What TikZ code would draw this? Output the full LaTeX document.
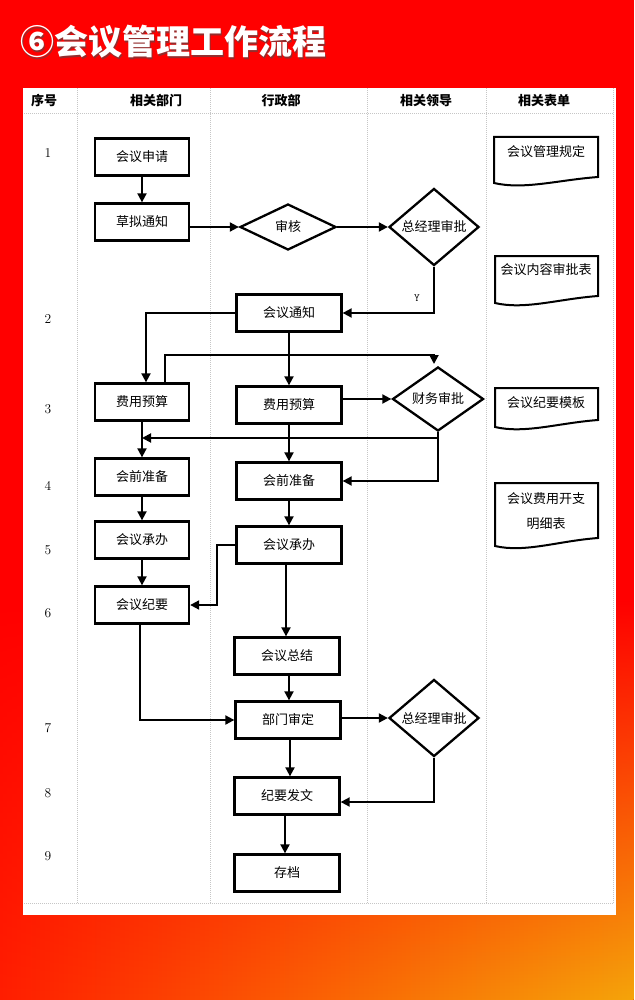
\documentclass[tikz,border=0pt]{standalone}
\usepackage{fontspec}
\newfontfamily\cjk{Noto Sans CJK SC}
\usetikzlibrary{arrows.meta,shapes.geometric,fadings}
\tikzset{
  box/.style={draw, line width=2.3pt, rectangle, minimum width=94pt, minimum height=37pt, inner sep=0pt, font=\cjk\fontsize{13}{13}\selectfont},
  wbox/.style={box, minimum width=105pt},
  dia/.style={draw, line width=2.3pt, diamond, inner sep=0pt, font=\cjk\fontsize{13}{13}\selectfont},
  arr/.style={line width=1.9pt, -{Triangle[length=9pt,width=9pt]}},
  grid/.style={draw=gray!45, line width=0.6pt, dash pattern=on 1pt off 1pt},
  head/.style={font=\cjk\bfseries\fontsize{13}{13}\selectfont},
  num/.style={font=\fontsize{13.5}{13.5}\selectfont},
  doctext/.style={font=\cjk\fontsize{13}{25}\selectfont, align=center},
  docline/.style={draw, line width=2pt}
}
\newcommand\mydoc[5]{%
  \draw[docline] (#1,#3) -- (#2,#3) -- (#2,#5) .. controls +(-40,3) and +(30,7) .. (#1,#4) -- cycle;}
\begin{document}
\begin{tikzpicture}[x=1pt,y=-1pt]
\useasboundingbox (0,0) rectangle (634,1000);
% background
\fill[red] (0,0) rectangle (634,1000);
\shade[left color={rgb,255:red,255;green,30;blue,0}, middle color={rgb,255:red,255;green,90;blue,0}, right color={rgb,255:red,245;green,165;blue,10}, path fading=north] (0,600) rectangle (634,1000);
% title
\node[font=\cjk\bfseries\fontsize{34}{34}\selectfont, text=black!70, opacity=0.6, anchor=west, inner sep=0pt] (titleshadow) at (21.5,43.5) {⑥会议管理工作流程};
\node[font=\cjk\bfseries\fontsize{34}{34}\selectfont, text=white, anchor=west, inner sep=0pt] (title) at (20,42) {⑥会议管理工作流程};
% panel
\fill[white] (23,88) rectangle (616,915);
\draw[grid] (24,113) -- (613,113);
\draw[grid] (24,903) -- (613,903);
\foreach \x in {77,210,367,486,613} {\draw[grid] (\x,88) -- (\x,903);}
% headers
\node[head] (h1) at (44,101) {序号};
\node[head] (h2) at (156,101) {相关部门};
\node[head] (h3) at (281,101) {行政部};
\node[head] (h4) at (426,101) {相关领导};
\node[head] (h5) at (544,101) {相关表单};
% row numbers
\node[num] (r1) at (48,153) {1};
\node[num] (r2) at (48,319) {2};
\node[num] (r3) at (48,409) {3};
\node[num] (r4) at (48,486) {4};
\node[num] (r5) at (48,550) {5};
\node[num] (r6) at (48,613) {6};
\node[num] (r7) at (48,728) {7};
\node[num] (r8) at (48,793) {8};
\node[num] (r9) at (48,856) {9};
% process boxes
\node[box] (n1) at (142,157) {会议申请};
\node[box] (n2) at (142,222) {草拟通知};
\node[dia, minimum width=96pt, minimum height=46pt] (d1) at (288,227) {审核};
\node[dia, minimum width=90pt, minimum height=63pt] (d2) at (434,227) {总经理审批};
\node[wbox] (m1) at (289,313) {会议通知};
\node[box] (l3) at (142,402) {费用预算};
\node[wbox] (m3) at (289,405) {费用预算};
\node[dia, minimum width=91pt, minimum height=51pt] (d3) at (438,399) {财务审批};
\node[box] (l4) at (142,477) {会前准备};
\node[wbox] (m4) at (289,481) {会前准备};
\node[box] (l5) at (142,540) {会议承办};
\node[wbox] (m5) at (289,545) {会议承办};
\node[box] (l6) at (142,605) {会议纪要};
\node[wbox] (m6) at (287,656) {会议总结};
\node[wbox] (m7) at (288,720) {部门审定};
\node[dia, minimum width=90pt, minimum height=64pt] (d4) at (434,718) {总经理审批};
\node[wbox] (m8) at (287,796) {纪要发文};
\node[wbox] (m9) at (287,873) {存档};
% documents
\mydoc{494}{598}{137}{183}{177}
\node[doctext] (f1) at (546,152) {会议管理规定};
\mydoc{495}{598}{256}{303}{296}
\node[doctext] (f2) at (546,270) {会议内容审批表};
\mydoc{495}{598}{388}{427}{420}
\node[doctext] (f3) at (546,403) {会议纪要模板};
\mydoc{495}{598}{483}{546}{538}
\node[doctext] (f4) at (546,511) {会议费用开支\\明细表};
% connectors
\coordinate (t3) at (434,364);
\coordinate (j3) at (0,438);
\draw[arr] (n1) -- (n2);
\draw[arr] (n2.east |- d1.west) -- (d1.west);
\draw[arr] (d1.east) -- (d2.west);
\draw[arr] (d2.south) |- (m1.east);
\node[font=\ttfamily\fontsize{11}{11}\selectfont] (ylab) at (417,298) {Y};
\draw[arr] (m1.west) -| ([xshift=4pt]l3.north);
\draw[arr] (m1.south) -- (m3.north);
\draw[arr] ([xshift=23pt]l3.north) -- ++(0,-27) -| (t3);
\draw[arr] (m3.east |- d3.west) -- (d3.west);
\draw[arr] (d3.south) |- (m4.east);
\draw[arr] (d3.south |- j3) -- (l3.south |- j3);
\draw[arr] (l3.south) -- (l4.north);
\draw[arr] (m3.south) -- (m4.north);
\draw[arr] (l4.south) -- (l5.north);
\draw[arr] (m4.south) -- (m5.north);
\draw[arr] (l5.south) -- (l6.north);
\draw[arr] (m5.west) -- ++(-18,0) |- (l6.east);
\draw[arr] ([xshift=-3pt]m5.south) -- ([xshift=-3pt]m5.south |- m6.north);
\draw[arr] ([xshift=-2pt]l6.south) |- (m7.west);
\draw[arr] ([xshift=2pt]m6.south) -- ([xshift=2pt]m6.south |- m7.north);
\draw[arr] (m7.east |- d4.west) -- (d4.west);
\draw[arr] ([xshift=2pt]m7.south) -- ([xshift=2pt]m7.south |- m8.north);
\draw[arr] (d4.south) |- ([yshift=-6pt]m8.east);
\draw[arr] ([xshift=-2pt]m8.south) -- ([xshift=-2pt]m8.south |- m9.north);
\end{tikzpicture}
\end{document}
